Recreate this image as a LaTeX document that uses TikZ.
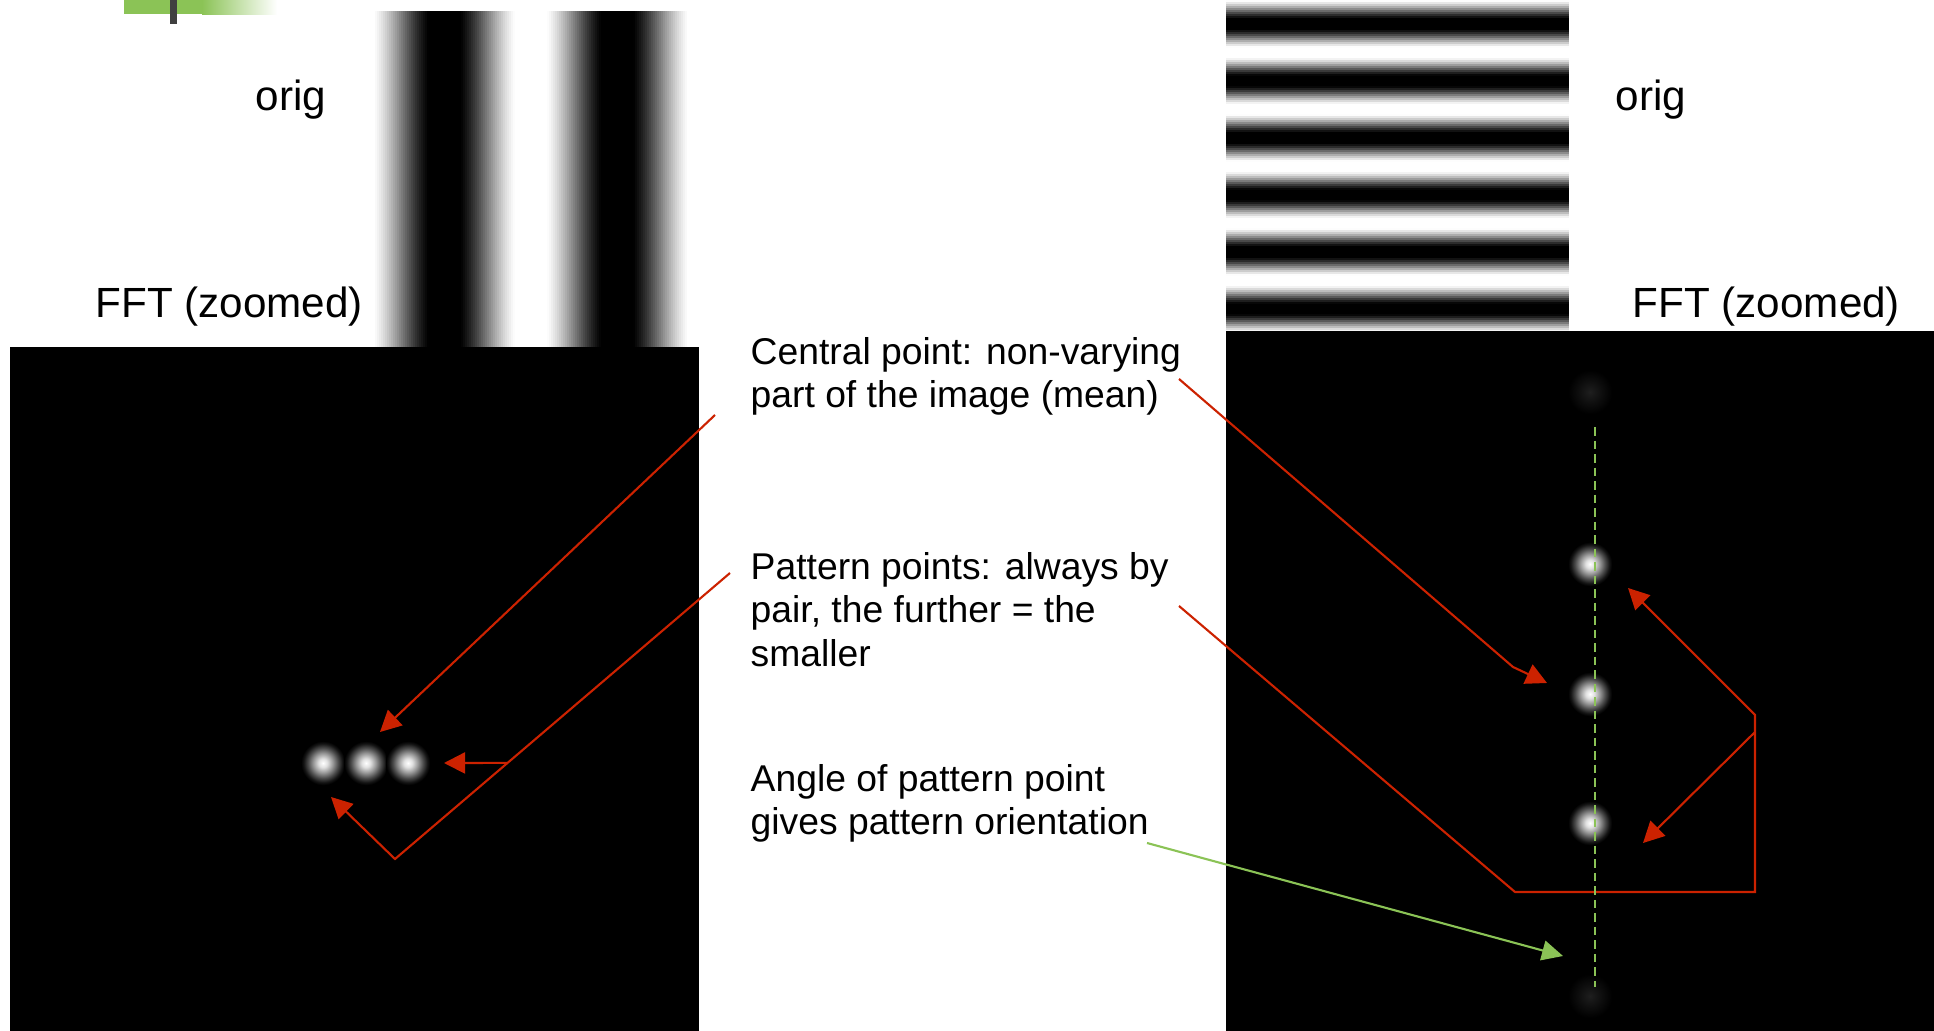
\documentclass[tikz,border=0pt]{standalone}
\usepackage{fontspec}
\setmainfont{Liberation Sans}
\usetikzlibrary{arrows.meta,calc}

\definecolor{arrowred}{RGB}{204,34,0}
\definecolor{leafgreen}{RGB}{139,195,86}

\pgfdeclareradialshading{fftspot}{\pgfpointorigin}{%
  color(0bp)=(white); color(5bp)=(black!12); color(11bp)=(black!40);
  color(17bp)=(black!70); color(22bp)=(black!92); color(25bp)=(black); color(50bp)=(black)}
\pgfdeclareradialshading{fftfaint}{\pgfpointorigin}{%
  color(0bp)=(black!88); color(12bp)=(black!94); color(25bp)=(black); color(50bp)=(black)}

\begin{document}
\begin{tikzpicture}[
  x=0.01cm, y=-0.01cm,
  every node/.style={inner sep=0pt},
  note/.style={font=\fontsize{10.6}{12.3}\selectfont, align=left, anchor=north west},
  lbl/.style={font=\fontsize{12}{14}\selectfont, anchor=base west},
  spot/.style={minimum size=0.44cm, shade, shading=fftspot},
  faint/.style={minimum size=0.44cm, shade, shading=fftfaint},
  ptr/.style={-{Triangle[length=2.1mm, width=2.1mm]}, line width=0.6pt, draw=arrowred},
  gptr/.style={-{Triangle[length=2.1mm, width=2.0mm]}, line width=0.6pt, draw=leafgreen},
  axisline/.style={draw=leafgreen, line width=0.6pt, dash pattern=on 0.85mm off 0.5mm},
]

\useasboundingbox[fill=white] (0,0) rectangle (1934,1031);

% ===== SLIDE ACCENT (top left) =====
\fill[leafgreen] (124,0) rectangle (202,14);
\shade[left color=leafgreen, right color=white] (202,0) rectangle (277,15);
\fill[black!75] (170,0) rectangle (177,24);

% ===== ORIGINAL PATTERNS =====
% vertical stripes
\foreach \x in {371,373,...,697}{
  \pgfmathsetmacro\dk{max(0,min(100,50-60*cos((\x-530)/173*360)))}
  \fill[black!\dk] (\x,11) rectangle (\x+2.6,347);
}
% horizontal stripes
\foreach \y in {0,2,...,330}{
  \pgfmathsetmacro\dk{max(0,min(100,50-60*cos((\y+5.5)/57*360)))}
  \fill[black!\dk] (1226,\y) rectangle (1569,\y+2.6);
}

% ===== FFT PANELS =====
\fill[black] (10,347) rectangle (699,1031);
\fill[black] (1226,331) rectangle (1934,1031);

\node[spot] (l1) at (323,763) {};
\node[spot] (l2) at (366,763) {};
\node[spot] (l3) at (408,763) {};

\node[faint] (r0) at (1590,392) {};
\node[spot]  (r1) at (1590,564) {};
\node[spot]  (r2) at (1590,694) {};
\node[spot]  (r3) at (1590,823) {};
\node[faint] (r4) at (1590,996) {};

% ===== LABELS =====
\node[lbl] (origL) at (255,111) {orig};
\node[lbl] (fftL)  at (95,318)  {FFT (zoomed)};
\node[lbl] (origR) at (1615,111) {orig};
\node[lbl] (fftR)  at (1632,318) {FFT (zoomed)};

\node[note] (central) at (750,337) {Central point: non-varying\\part of the image (mean)};
\node[note] (pattern) at (750,552) {Pattern points: always by\\pair, the further = the\\smaller};
\node[note] (angle)   at (750,764) {Angle of pattern point\\gives pattern orientation};

% ===== CONNECTORS: central point =====
\coordinate (cpL)    at (715,415);
\coordinate (cpLtip) at (380,732);
\draw[ptr] (cpL) -- (cpLtip);

\coordinate (cpR)    at (1179,379);
\coordinate (cpRb)   at (1513,667);
\coordinate (cpRtip) at (1547,683);
\draw[ptr] (cpR) -- (cpRb) -- (cpRtip);

% ===== CONNECTORS: pattern points =====
\coordinate (ppL)    at (730,573);
\coordinate (ppLv)   at (395,859);
\coordinate (ppLtip) at (331,797);
\draw[ptr] (ppL) -- (ppLv) -- (ppLtip);
\coordinate (ppLh)    at ($(ppL)!0.664!(ppLv)$);
\coordinate (ppLhtip) at (444,763);
\draw[ptr] (ppLh) -- (ppLhtip);

\coordinate (ppR)     at (1179,606);
\coordinate (ppRb)    at (1515,892);
\coordinate (ppRc)    at (1755,892);
\coordinate (ppRd)    at (1755,715);
\coordinate (ppRtip1) at (1628,588);
\draw[ptr] (ppR) -- (ppRb) -- (ppRc) -- (ppRd) -- (ppRtip1);
\coordinate (ppRe)    at (1755,732);
\coordinate (ppRtip2) at (1643,843);
\draw[ptr] (ppRe) -- (ppRtip2);

% ===== CONNECTORS: orientation =====
\coordinate (axTop) at (1595,427);
\coordinate (axBot) at (1595,987);
\draw[axisline] (axTop) -- (axBot);

\coordinate (anS)   at (1147,843);
\coordinate (anTip) at (1563,956);
\draw[gptr] (anS) -- (anTip);

\end{tikzpicture}
\end{document}
